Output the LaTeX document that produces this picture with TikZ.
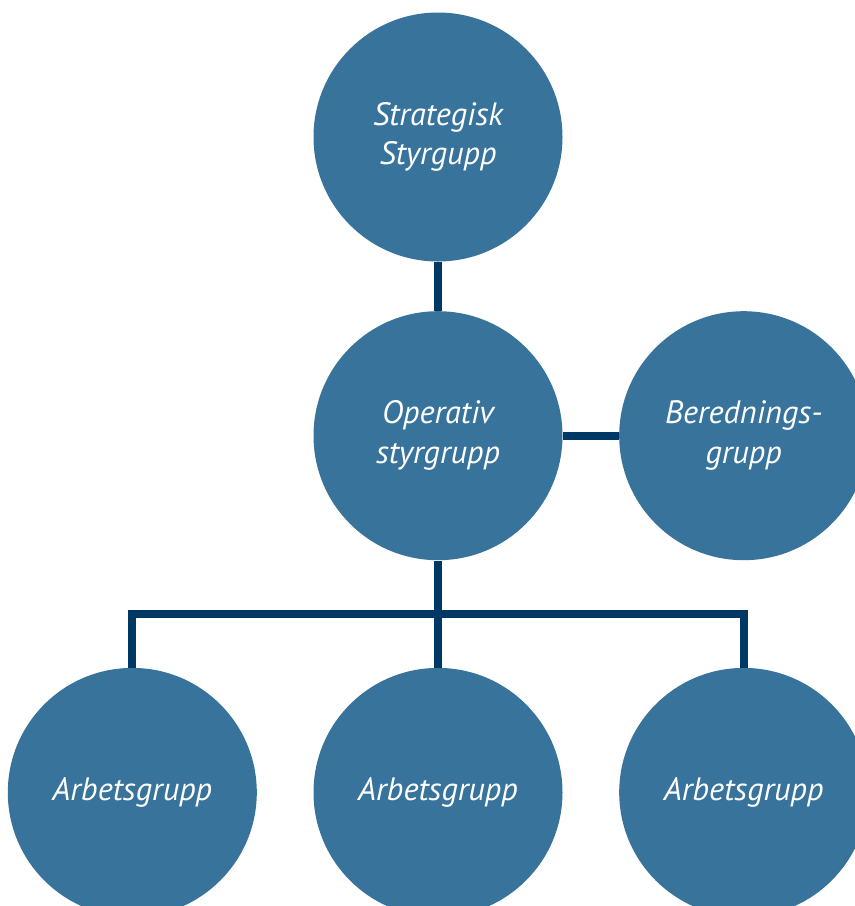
\documentclass[tikz,border=0pt]{standalone}
\usepackage{fontspec}
\setmainfont{PT Sans}
\usepackage{tikz}
\usetikzlibrary{positioning}
\usepackage{xcolor}
\definecolor{sgblue}{RGB}{56,115,155}
\definecolor{sgnavy}{RGB}{0,56,101}
\tikzstyle{groupcircle} = [circle, minimum size=4.98cm, inner sep=0pt, fill=sgblue, text=white, align=center, font=\itshape\fontsize{18.4}{22.6}\selectfont]
\tikzstyle{link} = [line width=4.5pt, color=sgnavy, line join=miter]

\begin{document}
\begin{tikzpicture}
\useasboundingbox (0,0) rectangle (17.1,-18.12);
\clip (0,0) rectangle (17.1,-18.12);

% Top level
\node[groupcircle] (strat) at (8.76,-2.74) {Strategisk\\Styrgupp};

% Middle level
\node[groupcircle, below=0.98cm of strat] (oper) {Operativ\\styrgrupp};
\node[groupcircle, right=1.12cm of oper] (bered) {Berednings-\\grupp};

% Working groups
\node[groupcircle, below=2.14cm of oper] (arb2) {Arbetsgrupp};
\node[groupcircle, left=1.12cm of arb2] (arb1) {Arbetsgrupp};
\node[groupcircle, right=1.12cm of arb2] (arb3) {Arbetsgrupp};

% Links
\coordinate[below=1.07cm of oper.south] (bar);
\draw[link] (strat) -- (oper);
\draw[link] (oper) -- (bered);
\draw[link] (oper) -- (arb2);
\draw[link] (arb1.north) |- (bar) -| (arb3.north);
\end{tikzpicture}
\end{document}
